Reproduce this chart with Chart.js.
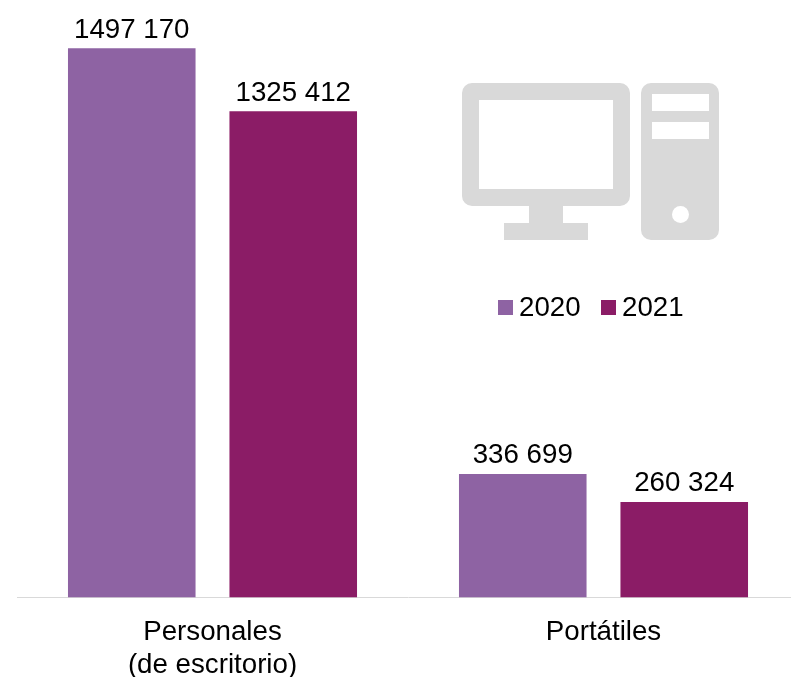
<!DOCTYPE html>
<html>
<head>
<meta charset="utf-8">
<style>
  html, body { margin: 0; padding: 0; background: #fff; overflow: hidden; }
  canvas { display: block; }
</style>
<script src="https://cdn.jsdelivr.net/npm/chart.js@4/dist/chart.umd.min.js"></script>
</head>
<body>
<canvas id="chart" width="799" height="677"></canvas>
<script>
const categories = [['Personales', '(de escritorio)'], 'Portátiles'];
const years = ['2020', '2021'];
const values2020 = [1497170, 336699];
const values2021 = [1325412, 260324];
const colors = ['#8e63a3', '#8b1c66'];

const FONT = 'Liberation Sans, Arial, sans-serif';
const TEXT_SIZE = 27.7;

const formatValue = (v) => {
    const s = String(v);
    return s.slice(0, -3) + ' ' + s.slice(-3);
};

const barLabels = {
    id: 'barLabels',
    afterDatasetsDraw(chart) {
        const ctx = chart.ctx;
        ctx.save();
        ctx.font = TEXT_SIZE + 'px ' + FONT;
        ctx.fillStyle = '#000';
        ctx.textAlign = 'center';
        ctx.textBaseline = 'alphabetic';
        chart.data.datasets.forEach((ds, i) => {
            chart.getDatasetMeta(i).data.forEach((bar, j) => {
                ctx.fillText(formatValue(ds.data[j]), bar.x, bar.y - 10.5);
            });
        });
        ctx.restore();
    }
};

// small legend, the gap of the built in one is too wide
const sideLegend = {
    id: 'sideLegend',
    afterDraw(chart) {
        const ctx = chart.ctx;
        const starts = [498, 601];
        ctx.save();
        ctx.font = TEXT_SIZE + 'px ' + FONT;
        ctx.textBaseline = 'alphabetic';
        chart.data.datasets.forEach((ds, i) => {
            ctx.fillStyle = ds.backgroundColor;
            ctx.fillRect(starts[i], 300, 15, 15);
            ctx.fillStyle = '#000';
            ctx.fillText(ds.label, starts[i] + 21, 316);
        });
        ctx.restore();
    }
};

const computerIcon = {
    id: 'computerIcon',
    afterDraw(chart) {
        const ctx = chart.ctx;
        ctx.save();
        ctx.fillStyle = '#d9d9d9';
        ctx.beginPath();
        ctx.roundRect(462, 83, 168, 123, 10);
        ctx.roundRect(641, 83, 78, 157, 10);
        ctx.fill();
        ctx.fillRect(529, 206, 34, 17);
        ctx.fillRect(504, 223, 84, 17);
        ctx.fillStyle = '#fff';
        ctx.fillRect(479, 100, 134, 89);
        ctx.fillRect(652, 94, 57, 17);
        ctx.fillRect(652, 122, 57, 17);
        ctx.beginPath();
        ctx.arc(680.5, 214.5, 8.5, 0, Math.PI * 2);
        ctx.fill();
        ctx.restore();
    }
};

new Chart(document.getElementById('chart'), {
    type: 'bar',
    data: {
        labels: categories,
        datasets: [
            { label: years[0], data: values2020, backgroundColor: colors[0] },
            { label: years[1], data: values2021, backgroundColor: colors[1] }
        ]
    },
    options: {
        responsive: false,
        animation: false,
        categoryPercentage: 0.826,
        barPercentage: 0.79,
        layout: { padding: { left: 17, top: 10.5, right: 0, bottom: 0 } },
        plugins: {
            legend: { display: false },
            tooltip: { enabled: false }
        },
        scales: {
            x: {
                grid: { display: false },
                border: { color: '#d9d9d9', width: 1 },
                ticks: {
                    color: '#000',
                    font: { family: FONT, size: TEXT_SIZE, lineHeight: 1.17 },
                    padding: 11,
                    maxRotation: 0,
                    autoSkip: false
                },
                afterFit(scale) { scale.height = 79.5; }
            },
            y: { display: false, min: 0, max: 1600000 }
        }
    },
    plugins: [barLabels, sideLegend, computerIcon]
});
</script>
</body>
</html>
